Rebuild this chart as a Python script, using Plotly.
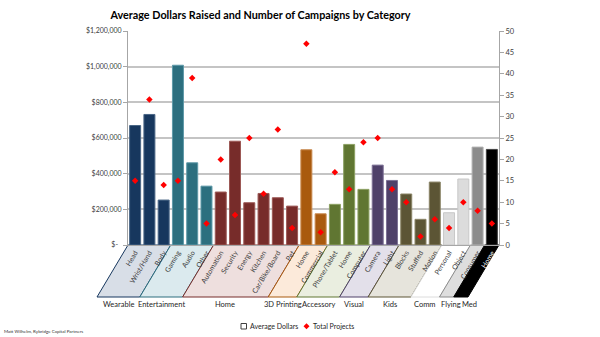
import plotly.graph_objects as go

# ---- data -------------------------------------------------------------
categories = ["Head", "Wrist/Hand", "Body",
              "Gaming", "Audio", "Other",
              "Automation", "Security", "Energy", "Kitchen", "Car/Bike/Board", "Pet",
              "Home", "Commercial",
              "Phone/Tablet", "Home", "Computer",
              "Camera", "Light",
              "Blocks", "Stuffed", "Motion",
              "Personal", "Object",
              "Consumer",
              "Home"]

avg_dollars = [670000, 732000, 252000,
               1008000, 461000, 330000,
               297000, 582000, 237000, 289000, 265000, 218000,
               534000, 175000,
               228000, 564000, 312000,
               448000, 362000,
               286000, 144000, 353000,
               181000, 370000,
               549000,
               536000]

total_projects = [15, 34, 14,
                  15, 39, 5,
                  20, 7, 25, 12, 27, 4,
                  47, 3,
                  17, 13, 24,
                  25, 13,
                  10, 2, 6,
                  4, 10,
                  8,
                  5]

groups = ["Wearable", "Entertainment", "Home", "3D Printing", "Accessory",
          "Visual", "Kids", "Comm", "Flying", "Med"]
group_sizes = [3, 3, 6, 2, 3, 2, 3, 2, 1, 1]

left_ticks = [0, 200000, 400000, 600000, 800000, 1000000, 1200000]
left_tick_text = ["$-\u00a0\u00a0", "$200,000", "$400,000", "$600,000",
                  "$800,000", "$1,000,000", "$1,200,000"]
right_ticks = [0, 5, 10, 15, 20, 25, 30, 35, 40, 45, 50]

# ---- styles -------------------------------------------------------------
FONT = "Lato"
group_bar_colors = ["#17375E", "#2C6F7F", "#772C2A", "#A95A0E", "#607632",
                    "#4F4169", "#5C5535", "#DCDCDC", "#8C8C8C", "#000000"]
group_edge_colors = ["#4A6686", "#5E99A8", "#9C5855", "#C98A50", "#8CA062",
                     "#7D7195", "#8A8466", "#C8C8C8", "#B0B0B0", "#404040"]
group_band_fills = ["#D8DEE7", "#DBEAEE", "#EEDFDE", "#FCEADA", "#EAEEE0",
                    "#E3E0EA", "#E6E4DC", "#FFFFFF", "#DEDEDE", "#000000"]

n = len(categories)
bar_colors, edge_colors = [], []
for g, size in enumerate(group_sizes):
    bar_colors += [group_bar_colors[g]] * size
    edge_colors += [group_edge_colors[g]] * size

x_idx = list(range(n))
tick_text = list(categories)
tick_text[-1] = "<span style='color:white'>" + categories[-1] + "</span>"

fig = go.Figure()
fig.add_trace(go.Bar(
    x=x_idx, y=avg_dollars, name="Average Dollars",
    marker=dict(color=bar_colors, line=dict(color=edge_colors, width=1)),
    showlegend=False,
))
fig.add_trace(go.Scatter(
    x=x_idx, y=total_projects, yaxis="y2", mode="markers", name="Total Projects",
    marker=dict(symbol="diamond", color="#FF0000", size=5),
    showlegend=False,
))

# ---- slanted group bands under the category axis -------------------
W, H = 600, 337
L, R, T, B = 128, 101, 31, 92
plot_w = W - L - R
plot_h = H - T - B
slant_px = 31
band_depth_px = 52
s = slant_px / plot_w
yb = -band_depth_px / plot_h

def xpaper(v):
    return (v + 0.5) / n

shapes = []
annotations = []
label_nudge_px = {"Flying": 4, "Med": 9}
start = 0
for g, size in enumerate(group_sizes):
    x0 = xpaper(start - 0.5)
    x1 = xpaper(start + size - 0.5)
    path = (f"M {x0},0 L {x1},0 L {x1 - s},{yb} L {x0 - s},{yb} Z")
    shapes.append(dict(type="path", xref="paper", yref="paper", path=path,
                       fillcolor=group_band_fills[g],
                       line=dict(color=group_bar_colors[g], width=1),
                       layer="below"))
    cx = (x0 + x1) / 2 - s + label_nudge_px.get(groups[g], 0) / plot_w
    annotations.append(dict(text=groups[g], x=cx, y=yb - 0.5 / plot_h, xref="paper",
                            yref="paper", xanchor="center", yanchor="top",
                            showarrow=False,
                            font=dict(family=FONT, size=7.5, color="#262626")))
    start += size

# ---- legend (drawn manually for compact spacing) -------------------
def px_to_paper_x(px):
    return (px - L) / plot_w

def px_to_paper_y(py):
    return (H - B - py) / plot_h

shapes.append(dict(type="rect", xref="paper", yref="paper",
                   x0=px_to_paper_x(241), x1=px_to_paper_x(246.5),
                   y0=px_to_paper_y(329), y1=px_to_paper_y(323.5),
                   fillcolor="white", line=dict(color="#404040", width=1)))
annotations.append(dict(text="Average Dollars", x=px_to_paper_x(248), y=px_to_paper_y(326.3),
                        xref="paper", yref="paper", xanchor="left", yanchor="middle",
                        showarrow=False, font=dict(family=FONT, size=7, color="#262626")))
dx, dy = 3.0 / plot_w, 3.0 / plot_h
cxd, cyd = px_to_paper_x(306.5), px_to_paper_y(326.3)
shapes.append(dict(type="path", xref="paper", yref="paper",
                   path=f"M {cxd},{cyd + dy} L {cxd + dx},{cyd} L {cxd},{cyd - dy} L {cxd - dx},{cyd} Z",
                   fillcolor="#FF0000", line=dict(color="#FF0000", width=0)))
annotations.append(dict(text="Total Projects", x=px_to_paper_x(311), y=px_to_paper_y(326.3),
                        xref="paper", yref="paper", xanchor="left", yanchor="middle",
                        showarrow=False, font=dict(family=FONT, size=7, color="#262626")))

annotations.append(dict(text="Matt Wilhelm, Rybridge Capital Partners",
                        x=px_to_paper_x(2), y=px_to_paper_y(331),
                        xref="paper", yref="paper", xanchor="left", yanchor="middle",
                        showarrow=False, font=dict(family=FONT, size=4.5, color="#333333")))

fig.update_layout(
    width=W, height=H,
    margin=dict(l=L, r=R, t=T, b=B, pad=0),
    paper_bgcolor="white", plot_bgcolor="white",
    title=dict(text="<b>Average Dollars Raised and Number of Campaigns by Category</b>",
               x=px_to_paper_x(260.5), xref="paper", xanchor="center",
               y=1 - 15 / H, yref="container", yanchor="middle",
               font=dict(family=FONT, size=10.8, color="#000000")),
    bargap=0.23,
    shapes=shapes,
    annotations=annotations,
    xaxis=dict(range=[-0.5, n - 0.5], tickmode="array", tickvals=x_idx,
               ticktext=tick_text, tickangle=-59, showgrid=False,
               showline=True, linecolor="#A6A6A6", linewidth=1,
               ticks="", zeroline=False,
               tickfont=dict(family=FONT, size=7, color="#3A3A3A")),
    yaxis=dict(range=[0, 1200000], tickmode="array", tickvals=left_ticks,
               ticktext=left_tick_text, showgrid=True, gridcolor="#C4C4C4",
               gridwidth=1.5, showline=True, linecolor="#A6A6A6", linewidth=1,
               ticks="outside", ticklen=4, tickcolor="#A6A6A6", zeroline=False,
               tickfont=dict(family=FONT, size=7, color="#404040")),
    yaxis2=dict(range=[0, 50], overlaying="y", side="right", tickmode="array",
                tickvals=right_ticks, showgrid=False, showline=True,
                linecolor="#A6A6A6", linewidth=1, ticks="outside", ticklen=4,
                tickcolor="#A6A6A6", zeroline=False,
                tickfont=dict(family=FONT, size=7.5, color="#404040")),
)

fig.write_html("out.html")
